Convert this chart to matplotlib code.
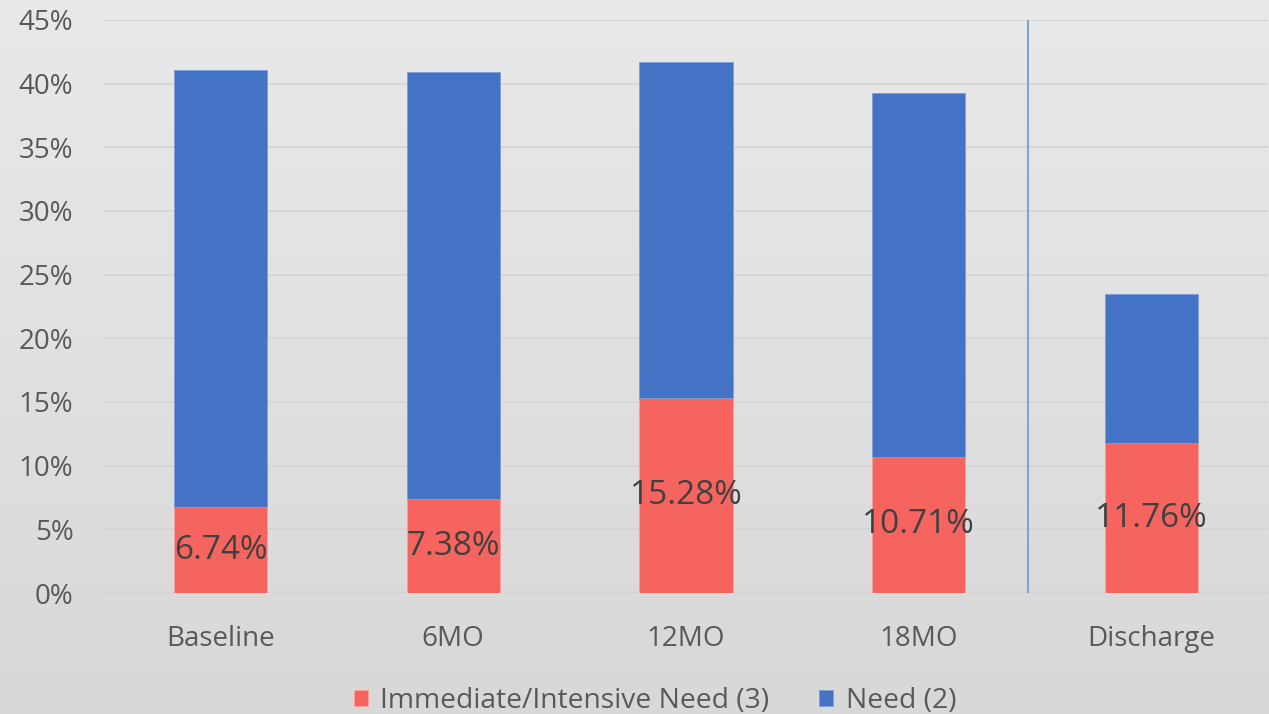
import numpy as np
import matplotlib.pyplot as plt
from matplotlib.colors import LinearSegmentedColormap
from matplotlib.ticker import PercentFormatter

plt.rcParams['font.family'] = ['Open Sans', 'DejaVu Sans']

categories = ['Baseline', '6MO', '12MO', '18MO', 'Discharge']
immediate = [6.74, 7.38, 15.28, 10.71, 11.76]   # Immediate/Intensive Need (3)
need = [34.33, 33.55, 26.42, 28.56, 11.74]       # Need (2)
labels = ['6.74%', '7.38%', '15.28%', '10.71%', '11.76%']

red = '#f5645f'
blue = '#4472c4'

fig = plt.figure(figsize=(12.69, 7.14), dpi=100)

# background gradient
bg = fig.add_axes([0, 0, 1, 1], zorder=-1)
grad = np.linspace(0, 1, 256).reshape(-1, 1)
bg.imshow(grad, aspect='auto', extent=[0, 1, 0, 1],
          cmap=LinearSegmentedColormap.from_list('g', ['#e9e9e9', '#d8d8d8']))
bg.axis('off')

ax = fig.add_axes([104 / 1269, 121 / 714, 1164 / 1269, 573 / 714])
ax.patch.set_alpha(0)

x = np.arange(len(categories))
ax.bar(x, immediate, width=0.4, color=red, edgecolor='#f8a09c', linewidth=0.6,
       label='Immediate/Intensive Need (3)', zorder=3)
ax.bar(x, need, width=0.4, bottom=immediate, color=blue, edgecolor='#7d9ed8',
       linewidth=0.6, label='Need (2)', zorder=3)

for xi, v, lab in zip(x, immediate, labels):
    ax.text(xi, v / 2, lab, ha='center', va='center', fontsize=24,
            color='#404040', zorder=4)

ax.axvline(3.47, color='#7aa6d6', linewidth=1.5, zorder=2)

ax.set_xlim(-0.5, 4.5)
ax.set_ylim(0, 45)
ax.set_yticks(np.arange(0, 46, 5))
ax.yaxis.set_major_formatter(PercentFormatter(decimals=0))
ax.set_xticks(x)
ax.set_xticklabels(categories)
ax.tick_params(axis='both', length=0, labelsize=20, colors='#595959')
ax.tick_params(axis='x', pad=23)
ax.tick_params(axis='y', pad=22)
ax.grid(axis='y', color='#d4d4d4', linewidth=1.2, zorder=0)
for s in ax.spines.values():
    s.set_visible(False)

fig.legend(loc='lower center', bbox_to_anchor=(0.516, -0.037), ncol=2, frameon=False,
           fontsize=20.3, handlelength=0.5, handleheight=0.5, handletextpad=0.45,
           columnspacing=1.75, labelcolor='#595959')

fig.savefig('out.png', dpi=100)
